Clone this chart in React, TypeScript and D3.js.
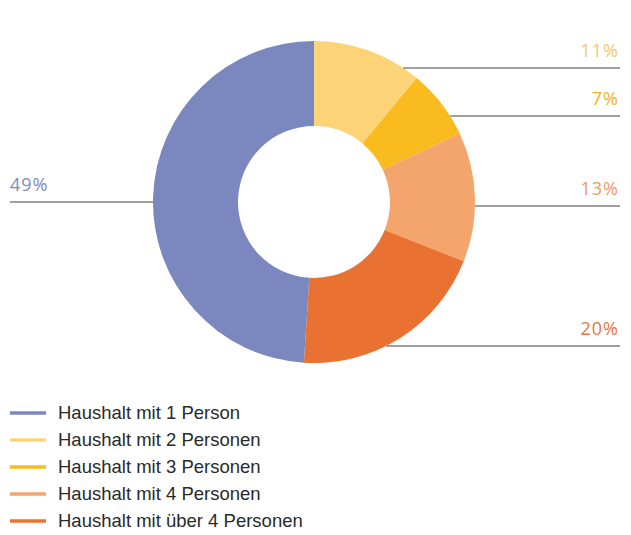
import React from 'react';
import * as d3 from 'd3';

const categories = [
  'Haushalt mit 2 Personen',
  'Haushalt mit 3 Personen',
  'Haushalt mit 4 Personen',
  'Haushalt mit über 4 Personen',
  'Haushalt mit 1 Person',
];
const shares = [11, 7, 13, 20, 49];
const colors = ['#FDD377', '#F9BB1E', '#F4A56C', '#E97132', '#7B87BF'];
const labelColors = ['#F3C870', '#F2B125', '#EE9A64', '#E8753F', '#8189BF'];
const legendOrder = [4, 0, 1, 2, 3];

// where each leader line sits (y in px), per slice
const leaderY = [68, 116, 206, 346, 202];

const W = 631;
const H = 535;
const cx = 314;
const cy = 202;
const outerR = 161;
const innerR = 76;

export default function App() {
  const pie = d3.pie<number>().sort(null).value(d => d);
  const arcs = pie(shares);
  const arc = d3.arc<d3.PieArcDatum<number>>().innerRadius(innerR).outerRadius(outerR);

  return (
    <svg width={W} height={H} style={{ position: 'absolute', left: 0, top: 0, background: '#fff' }}>
      <g transform={`translate(${cx},${cy})`}>
        {arcs.map((a, i) => (
          <path key={i} d={arc(a) || ''} fill={colors[i]} />
        ))}
      </g>
      {arcs.map((a, i) => {
        const y = leaderY[i];
        const dy = y - cy;
        const dx = Math.sqrt(Math.max(0, outerR * outerR - dy * dy));
        const mid = (a.startAngle + a.endAngle) / 2;
        const right = mid < Math.PI;
        const x0 = right ? cx + dx : cx - dx;
        const x1 = right ? 620 : 10;
        return (
          <g key={i}>
            <line x1={x0} x2={x1} y1={y} y2={y} stroke="#a0a0a0" strokeWidth={2} />
            <text
              x={right ? x1 - 1 : x1}
              y={y - 11}
              textAnchor={right ? 'end' : 'start'}
              fill={labelColors[i]}
              fontFamily="Open Sans, sans-serif"
              fontWeight={400}
              fontSize={18}
              letterSpacing={1}
            >
              {d3.format('d')(shares[i])}%
            </text>
          </g>
        );
      })}
      {legendOrder.map((k, j) => {
        const y = 413 + j * 27;
        return (
          <g key={k}>
            <line x1={10} x2={46} y1={y} y2={y} stroke={colors[k]} strokeWidth={3.5} />
            <text x={58} y={y + 6} fontFamily="Liberation Sans, Arial, sans-serif" fontSize={18.5} fill="#2a2a2a">
              {categories[k]}
            </text>
          </g>
        );
      })}
    </svg>
  );
}
